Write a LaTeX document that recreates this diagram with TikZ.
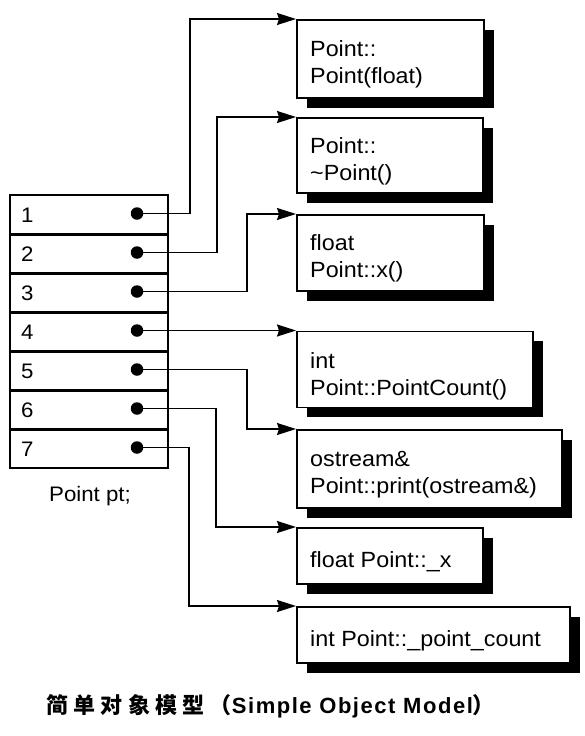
\documentclass[tikz,border=0pt]{standalone}
\usepackage{fontspec}
\setmainfont{Liberation Sans}[FakeStretch=1.06]
\newfontfamily\cjk{Noto Sans CJK SC}[LetterSpace=24]
\newfontfamily\capfont{Liberation Sans}[LetterSpace=7]
\usetikzlibrary{arrows.meta,shadows}

\tikzset{
  slotrow/.style={draw, line width=1.5pt, minimum width=158pt, minimum height=39pt,
    inner sep=0pt, anchor=north west},
  slotnum/.style={anchor=west, inner sep=0pt, font=\fontsize{21pt}{25pt}\selectfont},
  slotdot/.style={circle, fill=black, minimum size=12.5pt, inner sep=0pt},
  membox/.style={draw, line width=1.5pt, fill=white, inner sep=0pt, anchor=north west,
    drop shadow={shadow xshift=10pt, shadow yshift=-10pt, fill=black, opacity=1}},
  memtext/.style={anchor=base west, inner sep=0pt, font=\fontsize{22pt}{26pt}\selectfont},
  link/.style={line width=1.5pt, -{Stealth[length=19pt, width=12pt, inset=2pt]}},
}

\begin{document}
\begin{tikzpicture}[x=1pt, y=-1pt]
\useasboundingbox (0,0) rectangle (584,736);

% the object's slot table
\foreach \i in {1,...,7} {
  \node[slotrow] (s\i) at (9, {194+39*(\i-1)}) {};
  \node[slotnum] (n\i) at ([xshift=12pt, yshift=-1pt]s\i.west) {\i};
  \node[slotdot] (d\i) at (137, {213.5+39*(\i-1)}) {};
}
% heavier rules between the slots
\foreach \i in {1,...,6} {
  \draw[line width=3pt] (s\i.south west) -- (s\i.south east);
}
\node[anchor=base, inner sep=0pt, font=\fontsize{21pt}{25pt}\selectfont] (obj) at (90,501) {Point pt;};

% member boxes
\node[membox, minimum width=187pt, minimum height=78pt] (b1) at (296,19) {};
\node[membox, minimum width=186pt, minimum height=75pt] (b2) at (296,117) {};
\node[membox, minimum width=187pt, minimum height=76pt] (b3) at (296,214) {};
\node[membox, minimum width=236pt, minimum height=76pt] (b4) at (296,330.5) {};
\node[membox, minimum width=265pt, minimum height=78pt] (b5) at (296,429) {};
\node[membox, minimum width=186pt, minimum height=56pt] (b6) at (296,527) {};
\node[membox, minimum width=273pt, minimum height=56pt] (b7) at (296,606) {};

\node[memtext] (t1a) at ([shift={(14,37)}]b1.north west) {Point::};
\node[memtext] (t1b) at ([shift={(14,64)}]b1.north west) {Point(float)};
\node[memtext] (t2a) at ([shift={(14,36)}]b2.north west) {Point::};
\node[memtext] (t2b) at ([shift={(14,63)}]b2.north west) {\char`\~Point()};
\node[memtext] (t3a) at ([shift={(14,36)}]b3.north west) {float};
\node[memtext] (t3b) at ([shift={(14,63)}]b3.north west) {Point::x()};
\node[memtext] (t4a) at ([shift={(14,38)}]b4.north west) {int};
\node[memtext] (t4b) at ([shift={(14,65)}]b4.north west) {Point::PointCount()};
\node[memtext] (t5a) at ([shift={(14,37)}]b5.north west) {ostream\&};
\node[memtext] (t5b) at ([shift={(14,64)}]b5.north west) {Point::print(ostream\&)};
\node[memtext] (t6) at ([shift={(14,40)}]b6.north west) {float Point::\_x};
\node[memtext] (t7) at ([shift={(14,40)}]b7.north west) {int Point::\_point\_count};

% turning points of the connectors
\coordinate (c1) at (190,0);
\coordinate (c2) at (217,0);
\coordinate (c3) at (247,0);
\coordinate (c5) at (247,0);
\coordinate (c6) at (216,0);
\coordinate (c7) at (189,0);

\draw[link] (d1.center) -- (d1.center -| c1) |- (b1.north west);
\draw[link] (d2.center) -- (d2.center -| c2) |- (b2.north west);
\draw[link] (d3.center) -- (d3.center -| c3) |- (b3.north west);
\draw[link] (d4.center) -- (b4.north west);
\draw[link] (d5.center) -- (d5.center -| c5) |- (b5.north west);
\draw[link] (d6.center) -- (d6.center -| c6) |- (b6.north west);
\draw[link] (d7.center) -- (d7.center -| c7) |- (b7.north west);

% caption
\node[anchor=west, inner sep=0pt] (cap) at (46,706)
  {\fontsize{22pt}{26pt}\selectfont\bfseries\cjk 简单对象模型（\capfont Simple Object Model\cjk ）};
\end{tikzpicture}
\end{document}
